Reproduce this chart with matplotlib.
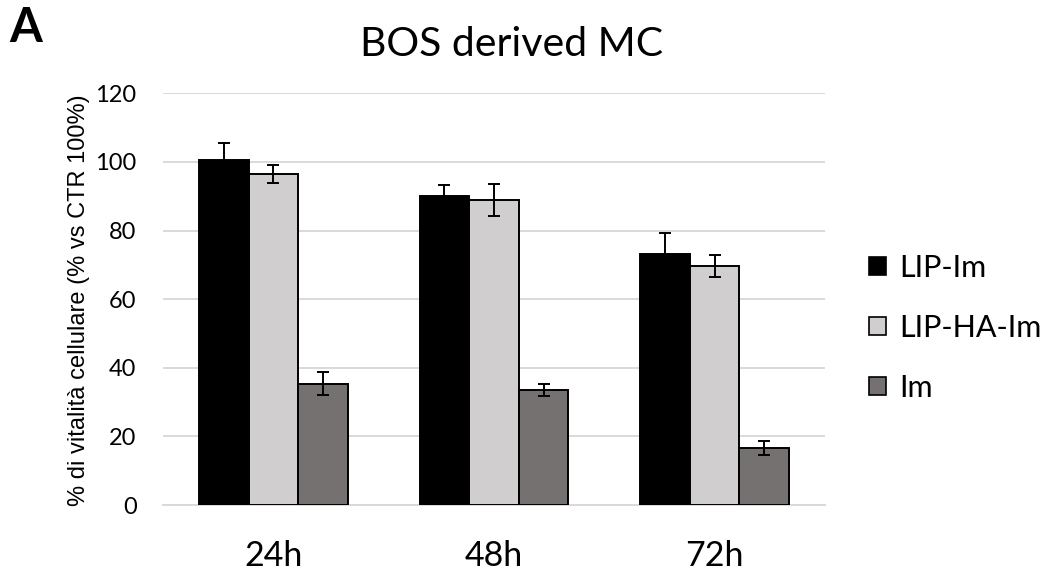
import matplotlib
matplotlib.use("Agg")
import matplotlib.pyplot as plt
import numpy as np
from matplotlib.patches import Patch

categories = ["24h", "48h", "72h"]
series_names = ["LIP-Im", "LIP-HA-Im", "Im"]
lip_im = [100.6, 90.0, 73.3]
lip_im_err = [4.9, 3.4, 6.0]
lip_ha_im = [96.4, 88.9, 69.6]
lip_ha_im_err = [2.6, 4.8, 3.2]
im = [35.4, 33.5, 16.7]
im_err = [3.3, 1.7, 2.1]
yticks = [0, 20, 40, 60, 80, 100, 120]

colors = ["#000000", "#D0CECE", "#767171"]
values = [lip_im, lip_ha_im, im]
errors = [lip_im_err, lip_ha_im_err, im_err]

W, H = 1056, 573
fig = plt.figure(figsize=(W / 100, H / 100), dpi=100)
ax = fig.add_axes([163 / W, 1 - 505 / H, (825 - 163) / W, (505 - 93.3) / H])

x = np.arange(len(categories))
bw = 0.225
for i, (vals, errs, c) in enumerate(zip(values, errors, colors)):
    pos = x + (i - 1) * bw
    ax.bar(pos, vals, width=bw, color=c, edgecolor="black", linewidth=1.4, zorder=3)
    ax.errorbar(pos, vals, yerr=errs, fmt="none", ecolor="black", elinewidth=1.4,
                capsize=4.5, capthick=1.4, zorder=4)

ax.set_xlim(-0.5, len(categories) - 0.5)
ax.set_ylim(0, 120)
ax.set_yticks(yticks)
ax.set_yticklabels([str(t) for t in yticks], fontsize=17, family="Lato")
ax.set_xticks(x)
ax.set_xticklabels(categories, fontsize=24.5, family="Lato")
ax.tick_params(axis="y", length=0, pad=19)
ax.tick_params(axis="x", length=0, pad=25)
ax.yaxis.grid(True, color="#D9D9D9", linewidth=1.4, zorder=0)
for s in ["top", "right", "left"]:
    ax.spines[s].set_visible(False)
ax.spines["bottom"].set_color("#D9D9D9")
ax.spines["bottom"].set_linewidth(1.4)
ax.set_axisbelow(True)

fig.text(79 / W, 1 - 300 / H, "% di vitalità cellulare (% vs CTR 100%)", rotation=90,
         ha="center", va="center", fontsize=17, family="Liberation Sans")
fig.text(512 / W, 1 - 44 / H, "BOS derived MC", ha="center", va="center",
         fontsize=29.5, family="Lato")
fig.text(9 / W, 1 - 28 / H, "A", ha="left", va="center", fontsize=34,
         family="Lato", fontweight="bold")

handles = [Patch(facecolor=c, edgecolor="black", linewidth=1.2) for c in colors]
fig.legend(handles, series_names, loc="center left", bbox_to_anchor=(869 / W, 1 - 328 / H),
           frameon=False, prop={"family": "Lato", "size": 22}, handlelength=0.55,
           handleheight=0.55, handletextpad=0.45, labelspacing=1.05, borderaxespad=0,
           borderpad=0)

fig.savefig("out.png", dpi=100)
